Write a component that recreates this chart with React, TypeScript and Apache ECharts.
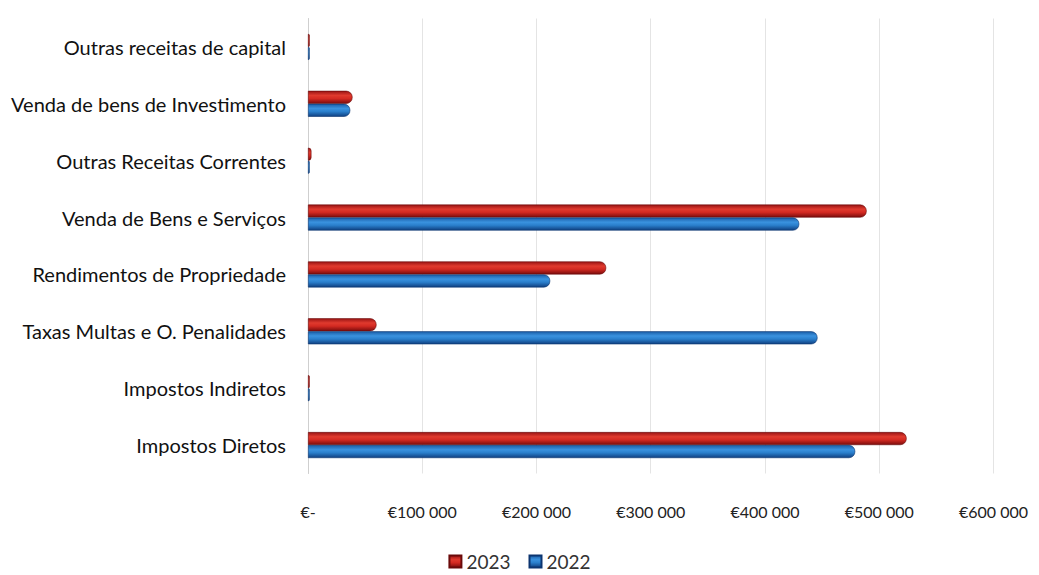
import React, { useEffect, useRef } from "react";
import * as echarts from "echarts";

const categories = [
  "Impostos Diretos",
  "Impostos Indiretos",
  "Taxas Multas e O. Penalidades",
  "Rendimentos de Propriedade",
  "Venda de Bens e Serviços",
  "Outras Receitas Correntes",
  "Venda de bens de Investimento",
  "Outras receitas de capital",
];
const values2023 = [524000, 1500, 60000, 261000, 489000, 3000, 39000, 1500];
const values2022 = [479000, 1500, 446000, 212000, 430000, 1500, 37000, 1500];
const xTicks = [0, 100000, 200000, 300000, 400000, 500000, 600000];

const fmt = (v: number) =>
  v === 0 ? "€-" : "€" + String(v).replace(/\B(?=(\d{3})+(?!\d))/g, " ");

export default function App() {
  const ref = useRef<HTMLDivElement>(null);
  useEffect(() => {
    if (!ref.current) return;
    const chart = echarts.init(ref.current, null, { renderer: "svg" });
    const redGrad = new echarts.graphic.LinearGradient(0, 0, 0, 1, [
      { offset: 0, color: "#9a1414" },
      { offset: 0.35, color: "#e03a2e" },
      { offset: 0.6, color: "#d42a22" },
      { offset: 1, color: "#7a0c0c" },
    ]);
    const blueGrad = new echarts.graphic.LinearGradient(0, 0, 0, 1, [
      { offset: 0, color: "#1b5fa8" },
      { offset: 0.35, color: "#3a92df" },
      { offset: 0.6, color: "#2a7fcc" },
      { offset: 1, color: "#0f3f80" },
    ]);
    chart.setOption({
      animation: false,
      backgroundColor: "#ffffff",
      grid: { left: 300, right: 31, top: 10.5, bottom: 99.5, containLabel: false },
      legend: {
        data: ["2023", "2022"],
        top: 544,
        left: "center",
        icon: "rect",
        itemWidth: 12,
        itemHeight: 12,
        itemGap: 18,
        padding: 0,
        textStyle: { fontFamily: "Lato", fontSize: 19, color: "#333" },
      },
      xAxis: {
        type: "value",
        min: xTicks[0],
        max: xTicks[xTicks.length - 1],
        interval: 100000,
        axisLine: { show: false },
        axisTick: { show: false },
        splitLine: { show: true, lineStyle: { color: "#e4e4e4" } },
        axisLabel: {
          formatter: (v: number) => fmt(v),
          fontFamily: "Lato",
          fontSize: 16,
          color: "#222",
          margin: 30,
        },
      },
      yAxis: {
        type: "category",
        data: categories,
        axisLine: { show: true, lineStyle: { color: "#cfcfcf" } },
        axisTick: { show: false },
        axisLabel: {
          fontFamily: "Lato",
          fontSize: 20,
          color: "#111",
          margin: 22,
        },
      },
      series: [
        {
          name: "2023",
          type: "bar",
          data: values2023,
          barWidth: 13,
          barGap: "0%",
          itemStyle: { color: redGrad, borderRadius: [0, 6, 6, 0], borderColor: "#6a0a0a", borderWidth: 0.6 },
        },
        {
          name: "2022",
          type: "bar",
          data: values2022,
          barWidth: 13,
          barGap: "0%",
          itemStyle: { color: blueGrad, borderRadius: [0, 6, 6, 0], borderColor: "#0c3570", borderWidth: 0.6 },
        },
      ],
      color: ["#d42a22", "#2a7fcc"],
    });
    return () => chart.dispose();
  }, []);
  return <div ref={ref} style={{ width: 1023, height: 565 }} />;
}
